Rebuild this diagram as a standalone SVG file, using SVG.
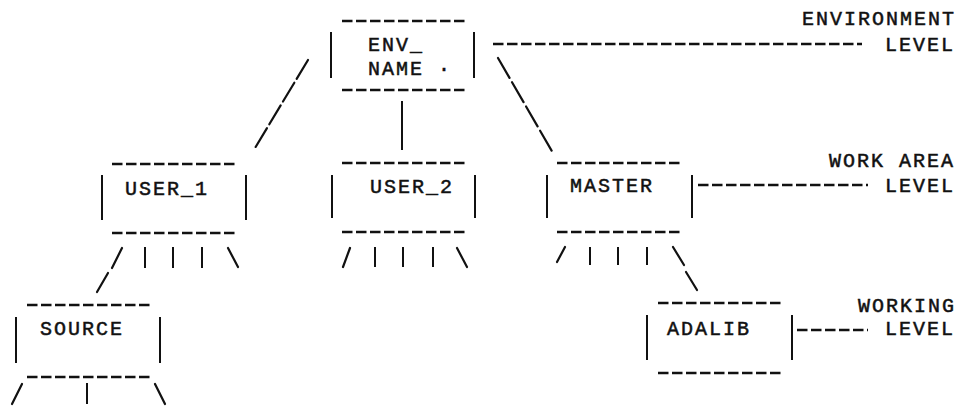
<svg xmlns="http://www.w3.org/2000/svg" width="960" height="410" viewBox="0 0 960 410">
<style>
  text { font-family: "Liberation Mono", "DejaVu Sans Mono", monospace; font-size: 20px; letter-spacing: 2px; fill: #111; stroke: #111; stroke-width: 0.5; }
  .dash { stroke: #111; stroke-width: 2.6; stroke-dasharray: 10.5 3.5; fill: none; }
  .bar { stroke: #111; stroke-width: 2; fill: none; }
  .slash { stroke: #111; stroke-width: 2.2; fill: none; stroke-linecap: round; }
</style>
<rect width="960" height="410" fill="#fff"/>

<g id="env_name">
  <line class="dash" x1="342" y1="21" x2="467" y2="21"/>
  <line class="dash" x1="342" y1="90" x2="467" y2="90"/>
  <line class="bar" x1="331" y1="32" x2="331" y2="78"/>
  <line class="bar" x1="474" y1="32" x2="474" y2="78"/>
  <text x="368" y="51">ENV_</text>
  <text x="368" y="75">NAME ·</text>
</g>

<g id="user_1">
  <line class="dash" x1="112" y1="164" x2="237" y2="164"/>
  <line class="dash" x1="112" y1="233" x2="237" y2="233"/>
  <line class="bar" x1="102" y1="175" x2="102" y2="220"/>
  <line class="bar" x1="246" y1="175" x2="246" y2="220"/>
  <text x="125" y="195">USER_1</text>
</g>

<g id="user_2">
  <line class="dash" x1="342" y1="163" x2="467" y2="163"/>
  <line class="dash" x1="342" y1="232" x2="467" y2="232"/>
  <line class="bar" x1="332" y1="175" x2="332" y2="218"/>
  <line class="bar" x1="475" y1="175" x2="475" y2="218"/>
  <text x="370" y="193">USER_2</text>
</g>

<g id="master">
  <line class="dash" x1="557" y1="163" x2="680" y2="163"/>
  <line class="dash" x1="557" y1="232" x2="680" y2="232"/>
  <line class="bar" x1="547" y1="175" x2="547" y2="218"/>
  <line class="bar" x1="692" y1="175" x2="692" y2="218"/>
  <text x="570" y="192">MASTER</text>
</g>

<g id="source">
  <line class="dash" x1="27" y1="305" x2="152" y2="305"/>
  <line class="dash" x1="27" y1="377" x2="152" y2="377"/>
  <line class="bar" x1="16" y1="317" x2="16" y2="363"/>
  <line class="bar" x1="160" y1="317" x2="160" y2="363"/>
  <text x="40" y="335">SOURCE</text>
</g>

<g id="adalib">
  <line class="dash" x1="658" y1="303" x2="783" y2="303"/>
  <line class="dash" x1="658" y1="373" x2="783" y2="373"/>
  <line class="bar" x1="647" y1="315" x2="647" y2="360"/>
  <line class="bar" x1="792" y1="315" x2="792" y2="360"/>
  <text x="667" y="335">ADALIB</text>
</g>

<g id="level_environment">
  <text x="802" y="25">ENVIRONMENT</text>
  <text x="885" y="51">LEVEL</text>
</g>
<g id="level_work_area">
  <text x="829" y="167">WORK AREA</text>
  <text x="885" y="192">LEVEL</text>
</g>
<g id="level_working">
  <text x="858" y="312">WORKING</text>
  <text x="885" y="335">LEVEL</text>
</g>

<g id="connectors">
  <!-- ENV_NAME to children -->
  <line class="slash" x1="308" y1="60" x2="255" y2="148" stroke-dasharray="22 4.5"/>
  <line class="bar" x1="402" y1="101" x2="402" y2="150"/>
  <line class="slash" x1="498" y1="58" x2="553" y2="153" stroke-dasharray="23 5"/>
  <!-- USER_1 fan-out -->
  <line class="slash" x1="122" y1="248" x2="112" y2="268"/>
  <line class="slash" x1="108" y1="273" x2="97" y2="292"/>
  <line class="bar" x1="145" y1="247" x2="145" y2="268"/>
  <line class="bar" x1="173" y1="247" x2="173" y2="268"/>
  <line class="bar" x1="202" y1="247" x2="202" y2="268"/>
  <line class="slash" x1="228" y1="248" x2="238" y2="267"/>
  <!-- USER_2 fan-out -->
  <line class="slash" x1="350" y1="248" x2="343" y2="267"/>
  <line class="bar" x1="375" y1="247" x2="375" y2="267"/>
  <line class="bar" x1="403" y1="247" x2="403" y2="267"/>
  <line class="bar" x1="433" y1="247" x2="433" y2="267"/>
  <line class="slash" x1="457" y1="248" x2="467" y2="267"/>
  <!-- MASTER fan-out -->
  <line class="slash" x1="565" y1="247" x2="557" y2="262"/>
  <line class="bar" x1="590" y1="247" x2="590" y2="265"/>
  <line class="bar" x1="618" y1="247" x2="618" y2="265"/>
  <line class="bar" x1="647" y1="247" x2="647" y2="265"/>
  <line class="slash" x1="673" y1="247" x2="684" y2="265"/>
  <line class="slash" x1="686" y1="272" x2="697" y2="290"/>
  <!-- SOURCE fan-out -->
  <line class="slash" x1="22" y1="384" x2="12" y2="404"/>
  <line class="bar" x1="87" y1="383" x2="87" y2="404"/>
  <line class="slash" x1="155" y1="384" x2="165" y2="404"/>
  <!-- level leaders -->
  <line class="dash" x1="493" y1="44" x2="862" y2="44"/>
  <line class="dash" x1="698" y1="185" x2="868" y2="185"/>
  <line class="dash" x1="797" y1="330" x2="868" y2="330"/>
</g>
</svg>
